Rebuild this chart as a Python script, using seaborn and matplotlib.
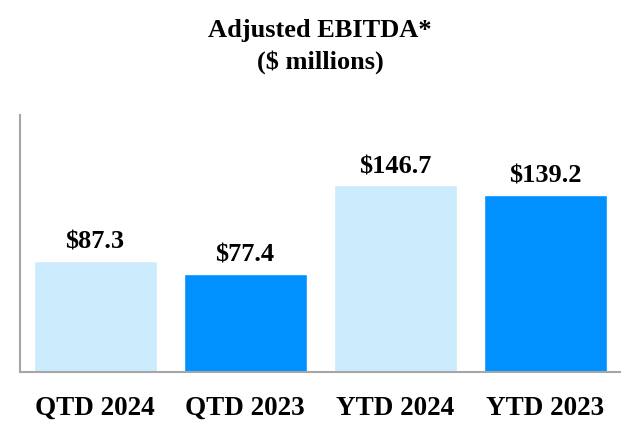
import matplotlib
matplotlib.use("Agg")
import matplotlib.pyplot as plt
import seaborn as sns
import pandas as pd

periods = ["QTD 2024", "QTD 2023", "YTD 2024", "YTD 2023"]
ebitda = [87.3, 77.4, 146.7, 139.2]
bar_colors = ["#CCECFD", "#0091FF", "#CCECFD", "#0091FF"]

sns.set_theme(style="white")
plt.rcParams['font.family'] = ['Liberation Serif', 'DejaVu Serif']
plt.rcParams['text.color'] = 'black'

df = pd.DataFrame({"period": periods, "ebitda": ebitda})

fig = plt.figure(figsize=(6.4, 4.4), dpi=100)
ax = fig.add_axes([20 / 640, 1 - 372 / 440, 600 / 640, 257 / 440])

sns.barplot(data=df, x="period", y="ebitda", hue="period", palette=bar_colors,
            width=0.82, saturation=1, legend=False, ax=ax)

for c in ax.containers:
    ax.bar_label(c, fmt="$%.1f", padding=5, fontsize=19, fontweight="bold", color="black")

ax.set_xlim(-0.5, 3.5)
ax.set_ylim(0, 202)
ax.set_xlabel("")
ax.set_ylabel("")
ax.set_yticks([])
ax.tick_params(axis="x", length=0, pad=17)
for lbl in ax.get_xticklabels():
    lbl.set_fontsize(19.5)
    lbl.set_fontweight("bold")
    lbl.set_color("black")

sns.despine(ax=ax, top=True, right=True)
for side in ["left", "bottom"]:
    ax.spines[side].set_color("#A6A6A6")
    ax.spines[side].set_linewidth(1.5)

fig.text(0.5, 1 - 31 / 440, "Adjusted EBITDA*", ha="center", va="center",
         fontsize=19, fontweight="bold", color="black")
fig.text(0.5, 1 - 62 / 440, "($ millions)", ha="center", va="center",
         fontsize=19, fontweight="bold", color="black")

fig.savefig("out.png", dpi=100)
